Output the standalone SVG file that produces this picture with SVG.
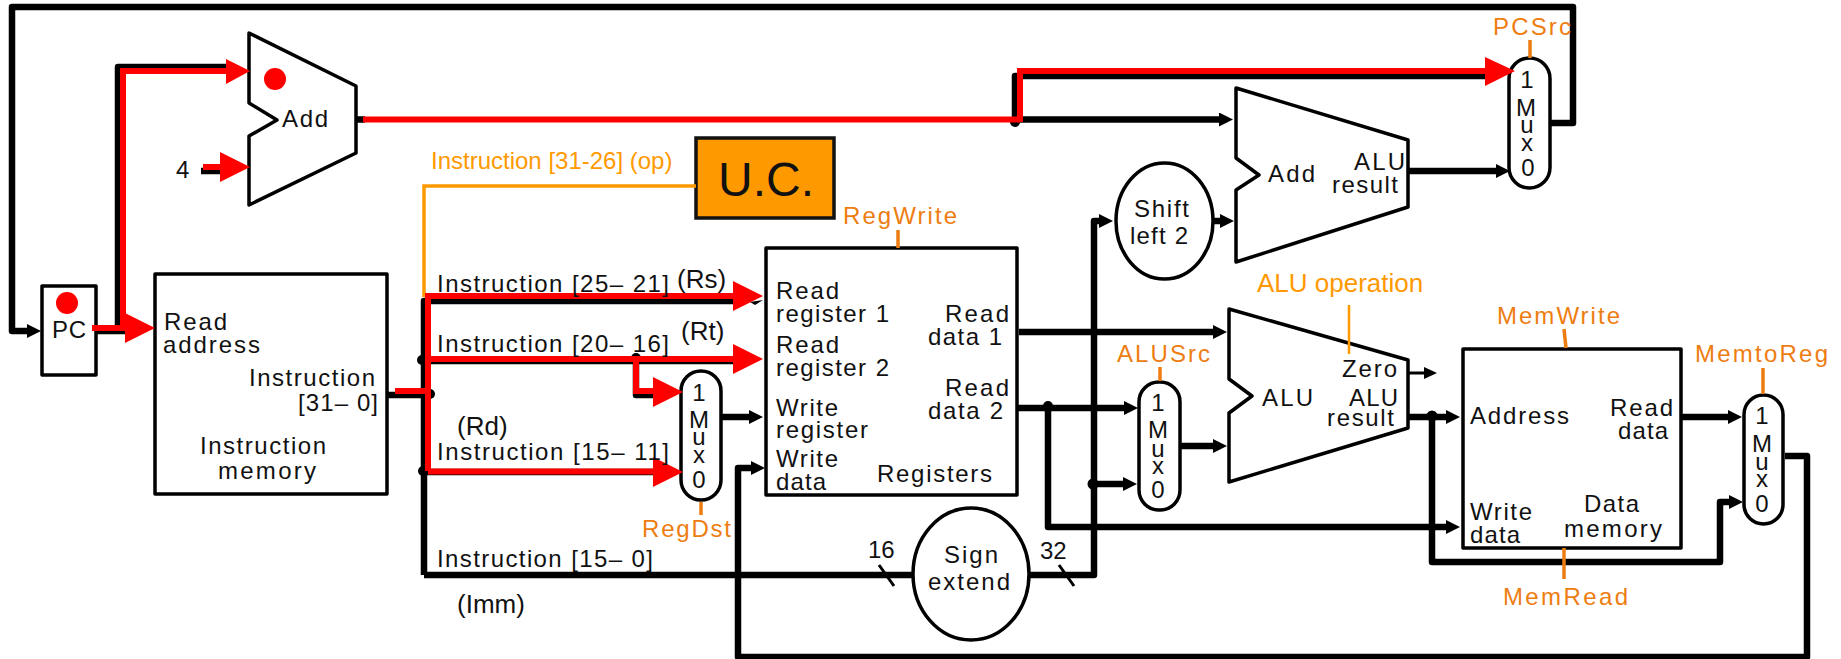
<svg xmlns="http://www.w3.org/2000/svg" width="1841" height="659" viewBox="0 0 1841 659">
<style>
text{font-family:"Liberation Sans",Arial,sans-serif;font-size:24px;fill:#111}
text.big{font-size:26px}
.s{fill:#fff;stroke:#000;stroke-width:3.5;stroke-linejoin:round}
.b{fill:none;stroke:#000;stroke-width:6.500;stroke-linejoin:round}
.r{fill:none;stroke:#f00;stroke-width:6;stroke-linejoin:miter}
.ra{fill:#f00;stroke:none}
.dot{fill:#000}
.rd{fill:#f00}
.tick{fill:none;stroke:#000;stroke-width:3}
.ot{fill:none;stroke:#ee7d11;stroke-width:3.5}
.oy{fill:none;stroke:#ff9900;stroke-width:3.5}
text.o{fill:#ee7d11}
text.y{fill:#ff9900}
text.c{text-anchor:middle}
</style>
<defs>
<marker id="ah" markerUnits="userSpaceOnUse" viewBox="0 0 14 14" refX="1" refY="7" markerWidth="14" markerHeight="14" orient="auto"><path d="M0,0L14,7L0,14z" fill="#000"/></marker>
<marker id="as" markerUnits="userSpaceOnUse" viewBox="0 0 13 12" refX="1" refY="6" markerWidth="13" markerHeight="12" orient="auto"><path d="M0,0L13,6L0,12z" fill="#000"/></marker>
</defs>

<g id="pc"><rect class="s" x="42" y="286" width="54" height="89"/><text x="52" y="338" textLength="34">PC</text><circle class="rd" cx="67" cy="303" r="11"/></g>
<g id="add1"><path class="s" d="M249,33L356,86V153L249,205V136L277,120L249,103Z"/><text x="282" y="127" textLength="46">Add</text><circle class="rd" cx="275" cy="79" r="11"/></g>
<g id="const4"><text x="176" y="178">4</text></g>
<g id="imem"><rect class="s" x="155" y="274" width="232" height="220"/><text x="164" y="330" textLength="63">Read</text><text x="163" y="353" textLength="97">address</text><text x="249" y="386" textLength="126">Instruction</text><text x="298" y="411" textLength="80">[31– 0]</text><text x="200" y="454" textLength="126">Instruction</text><text x="218" y="479" textLength="98">memory</text></g>
<g id="uc"><rect x="696" y="138" width="138" height="80" fill="#ff9900" stroke="#111" stroke-width="3.5"/><text x="718" y="196" style="font-size:48px">U.C.</text></g>
<g id="regdst"><rect class="s" x="681" y="371" width="40" height="129" rx="20"/><text class="c" x="699" y="401">1</text><text class="c" x="699" y="428">M</text><text class="c" x="699" y="445">u</text><text class="c" x="699" y="463">x</text><text class="c" x="699" y="488">0</text></g>
<g id="regs"><rect class="s" x="766" y="248" width="251" height="247"/><text x="776" y="299" textLength="63">Read</text><text x="776" y="322" textLength="113">register 1</text><text x="776" y="353" textLength="63">Read</text><text x="776" y="376" textLength="113">register 2</text><text x="776" y="416" textLength="62">Write</text><text x="776" y="438" textLength="92">register</text><text x="776" y="467" textLength="62">Write</text><text x="776" y="490" textLength="50">data</text><text x="877" y="482" textLength="115">Registers</text><text x="945" y="322" textLength="64">Read</text><text x="928" y="345" textLength="74">data 1</text><text x="945" y="396" textLength="64">Read</text><text x="928" y="419" textLength="75">data 2</text></g>
<g id="signext"><ellipse class="s" cx="971" cy="574" rx="58" ry="66"/><text x="944" y="563" textLength="54">Sign</text><text x="928" y="590" textLength="82">extend</text></g>
<g id="shift"><ellipse class="s" cx="1164.500" cy="221" rx="48.500" ry="58"/><text x="1134" y="217" textLength="55">Shift</text><text x="1130" y="244" textLength="58">left 2</text></g>
<g id="add2"><path class="s" d="M1236,88L1408,140V207L1236,262V190L1259,175L1236,158Z"/><text x="1268" y="182" textLength="47">Add</text><text x="1354" y="170" textLength="51">ALU</text><text x="1332" y="193" textLength="66">result</text></g>
<g id="pcmux"><rect class="s" x="1509" y="58" width="41" height="130" rx="20.500"/><text class="c" x="1527" y="88">1</text><text class="c" x="1526" y="116">M</text><text class="c" x="1527" y="133">u</text><text class="c" x="1527" y="151">x</text><text class="c" x="1528" y="176">0</text></g>
<g id="alusrc"><rect class="s" x="1139" y="382" width="41" height="128" rx="20"/><text class="c" x="1158" y="411">1</text><text class="c" x="1158" y="438">M</text><text class="c" x="1158" y="457">u</text><text class="c" x="1158" y="474">x</text><text class="c" x="1158" y="498">0</text></g>
<g id="alu"><path class="s" d="M1229,309L1408,360V428L1229,482V413L1252,396L1229,379Z"/><text x="1262" y="406" textLength="51">ALU</text><text x="1342" y="377" textLength="55">Zero</text><text x="1349" y="406" textLength="49">ALU</text><text x="1327" y="426" textLength="67">result</text></g>
<g id="dmem"><rect class="s" x="1463" y="349" width="218" height="199"/><text x="1470" y="424" textLength="99">Address</text><text x="1610" y="416" textLength="63">Read</text><text x="1618" y="439" textLength="50">data</text><text x="1470" y="520" textLength="62">Write</text><text x="1470" y="543" textLength="50">data</text><text x="1584" y="512" textLength="55">Data</text><text x="1564" y="537" textLength="98">memory</text></g>
<g id="wbmux"><rect class="s" x="1744" y="395" width="39" height="129" rx="19.500"/><text class="c" x="1762" y="424">1</text><text class="c" x="1762" y="452">M</text><text class="c" x="1762" y="470">u</text><text class="c" x="1762" y="487">x</text><text class="c" x="1762" y="512">0</text></g>

<g id="connectors">
<path class="b" d="M1550,123H1573V7H12V331H28" marker-end="url(#ah)"/>
<path class="b" d="M96,331H125"/>
<path class="b" d="M118,331V67H226"/>
<path class="b" d="M201,171H222"/>
<path class="b" d="M356,119.500H365"/>
<path class="b" d="M1015,121V76H1488"/><path class="b" d="M1015,119.500H1220" marker-end="url(#ah)"/>
<circle class="dot" cx="1015" cy="122" r="5"/>
<path class="b" d="M1408,171H1497" marker-end="url(#ah)"/>
<path class="b" d="M1213,221H1221" marker-end="url(#ah)"/>
<path class="oy" d="M696,186H424V297"/>
<path class="b" d="M387,395H430"/>
<path class="b" d="M424,575V301H735"/>
<path class="b" d="M424,361H735"/>
<path class="b" d="M424,472H655"/>
<path class="b" d="M636,359V395H655"/>
<polygon class="dot" points="750,302 763,300 755,305"/>
<circle class="dot" cx="422" cy="360" r="5"/><circle class="dot" cx="430" cy="394" r="5"/><circle class="dot" cx="423" cy="471" r="5"/><circle class="dot" cx="636" cy="358" r="5"/>
<path class="r" d="M92,328H125"/><path class="r" d="M123,328V71H226"/>
<polygon class="ra" points="125,313 155,328 125,343"/>
<polygon class="ra" points="226,59 250,71 226,84"/>
<path class="r" d="M203,167H222"/>
<polygon class="ra" points="220,152 250,167 220,182"/>
<path class="r" d="M363,119.500H1020"/>
<path class="r" d="M1020,122V71H1488"/>
<polygon class="ra" points="1485,57 1515,71 1485,86"/>
<path class="r" d="M395,391H428"/>
<path class="r" d="M428,471V296H735"/>
<path class="r" d="M428,359H735"/>
<path class="r" d="M428,471.500H655"/>
<polygon class="ra" points="733,281 763,296 733,311"/>
<polygon class="ra" points="733,344 763,359 733,374"/>
<polygon class="ra" points="653,457 683,472 653,487"/>
<path class="r" d="M636,359V391H655"/>
<polygon class="ra" points="653,377 683,392 653,407"/>
<path class="b" d="M721,417H750" marker-end="url(#ah)"/>

<path class="b" d="M424,575H913"/>
<path class="b" d="M1029,575H1094V221H1100" marker-end="url(#ah)"/>
<path class="tick" d="M879,565L894,586M1059,565L1074,586"/>

<path class="b" d="M1785,456H1807V657H738V468H752" marker-end="url(#ah)"/>

<path class="b" d="M1019,332H1214" marker-end="url(#ah)"/>
<path class="b" d="M1017,408H1125" marker-end="url(#ah)"/>
<circle class="dot" cx="1048" cy="406" r="5"/>
<path class="b" d="M1048,407V527H1447" marker-end="url(#ah)"/>
<circle class="dot" cx="1093" cy="484" r="5.500"/>
<path class="b" d="M1093,484H1124" marker-end="url(#ah)"/>
<path class="b" d="M1180,446H1214" marker-end="url(#ah)"/>
<path class="b" style="stroke-width:3" d="M1408,373H1425" marker-end="url(#as)"/>
<path class="b" d="M1408,417H1447" marker-end="url(#ah)"/>
<circle class="dot" cx="1432" cy="416" r="5.500"/>
<path class="b" d="M1432,416V562H1720V502H1730" marker-end="url(#ah)"/>
<path class="b" d="M1681,417H1729" marker-end="url(#ah)"/>

<path class="ot" d="M1530,40V58M898,230V248M701,502V515M1160,367V381M1564,329L1566,348M1564,548V579M1763,368V394"/>
<path class="oy" style="stroke-width:2.500" d="M1349,305V354"/>
</g>

<g id="labels">
<text class="y" x="431" y="169">Instruction [31-26] (op)</text>
<text x="437" y="292" textLength="232">Instruction [25– 21]</text><text class="big" x="677" y="288">(Rs)</text>
<text x="437" y="352" textLength="232">Instruction [20– 16]</text><text class="big" x="681" y="340">(Rt)</text>
<text class="big" x="457" y="435">(Rd)</text>
<text x="437" y="460" textLength="232">Instruction [15– 11]</text>
<text x="437" y="567" textLength="216">Instruction [15– 0]</text>
<text class="big" x="457" y="613">(Imm)</text>
<text x="868" y="558">16</text><text x="1040" y="559">32</text>
<text class="o" x="843" y="224" textLength="114">RegWrite</text>
<text class="o" x="642" y="537" textLength="89">RegDst</text>
<text class="o" x="1493" y="35" textLength="78">PCSrc</text>
<text class="o" x="1117" y="362" textLength="93">ALUSrc</text>
<text class="y big" x="1257" y="292">ALU operation</text>
<text class="o" x="1497" y="324" textLength="123">MemWrite</text>
<text class="o" x="1503" y="605" textLength="125">MemRead</text>
<text class="o" x="1695" y="362" textLength="133">MemtoReg</text>
</g>
</svg>
